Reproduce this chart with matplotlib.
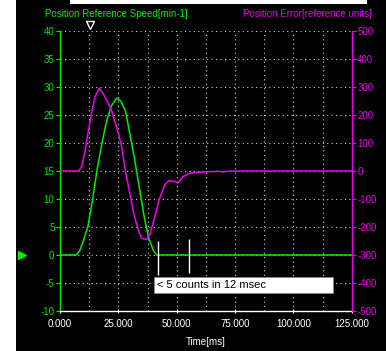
import matplotlib
matplotlib.use("Agg")
import matplotlib.pyplot as plt
from matplotlib.lines import Line2D
from matplotlib.patches import Rectangle
import numpy as np

plt.rcParams['font.family'] = ['Liberation Sans', 'DejaVu Sans']

# ---- data ----
speed_t = [0, 7.0, 8.5, 10, 12, 14, 16, 18, 20, 22, 24.3, 26, 28, 30, 32, 34, 36, 38, 40, 41.5, 125]
speed_v = [0, 0, 0.8, 2.5, 5.2, 10, 15.5, 20, 24, 26.6, 28, 27.5, 25.8, 21.5, 17, 12, 7, 3, 0.8, 0, 0]

err_t = [0, 7.9, 9.3, 10.7, 12.1, 13.5, 15.0, 16.8, 18.5, 19.9, 22.0, 24.2, 26.3, 28.2, 29.9,
         31.6, 33.5, 34.9, 37.0, 38.5, 40.6, 42.7, 44.9, 46.7, 49.1, 50.6, 52.7, 55.6, 59.9,
         68.5, 70.0, 71.5, 77, 125]
err_v = [0, 0, 15, 70, 140, 206, 265, 295, 277, 254, 218, 158, 92, -8, -80,
         -152, -210, -240, -244, -228, -163, -98, -50, -34, -38, -42, -20, -8, -4,
         -1, -4, -1, 0, 0]

x_ticks = [0, 25, 50, 75, 100, 125]
left_ticks = [-10, -5, 0, 5, 10, 15, 20, 25, 30, 35, 40]
right_ticks = [-500, -400, -300, -200, -100, 0, 100, 200, 300, 400, 500]
marker_lines = [42.1, 55.4]
annotation = "< 5 counts in 12 msec"

GREEN = '#00ee00'
MAG = '#ee00ee'
W, H = 386, 351

fig = plt.figure(figsize=(W / 100, H / 100), dpi=100, facecolor='black')
ax = fig.add_axes([60 / W, 1 - 311 / H, 291.7 / W, 280 / H], facecolor='black')
ax2 = ax.twinx()

# grid
gkw = dict(color='#c8c8c8', lw=0.8, linestyle=(0, (1, 3)))
for gx in np.arange(12.5, 125, 12.5):
    ax.axvline(gx, **gkw, zorder=0)
for gy in left_ticks[1:]:
    ax.axhline(gy, **gkw, zorder=0)

ax.plot(speed_t, speed_v, color=GREEN, lw=1.1, zorder=3)
ax2.plot(err_t, err_v, color=MAG, lw=1.1, zorder=3)

ax.set_xlim(0, 125)
ax.set_ylim(-10, 40)
ax2.set_ylim(-500, 500)

ax.set_xticks(x_ticks)
ax.set_xticklabels([f"{v:.3f}" for v in x_ticks])
ax.set_yticks(left_ticks)
ax.set_yticklabels([str(v) for v in left_ticks])
ax2.set_yticks(right_ticks)
ax2.set_yticklabels([str(v) for v in right_ticks])

fs = 7
ax.tick_params(axis='x', colors='white', labelsize=fs, length=3, direction='inout', width=0.8, pad=4)
ax.tick_params(axis='y', colors=GREEN, labelsize=fs, length=3, direction='out', width=0.8, pad=1)
ax2.tick_params(axis='y', colors=MAG, labelsize=fs, length=3, direction='out', width=0.8, pad=1)

for a in (ax, ax2):
    a.spines['top'].set_visible(False)
ax.spines['right'].set_visible(False)
ax2.spines['left'].set_visible(False)
ax2.spines['bottom'].set_visible(False)
ax.spines['left'].set_color(GREEN)
ax.spines['bottom'].set_color('white')
ax2.spines['right'].set_color(MAG)
for s in ('left', 'bottom'):
    ax.spines[s].set_linewidth(1.0)
ax2.spines['right'].set_linewidth(1.0)

ax.set_xlabel("Time[ms]", color='white', fontsize=fs, labelpad=6)

fig.text(45 / W, 1 - 14 / H, "Position Reference Speed[min-1]", color=GREEN, fontsize=fs,
         ha='left', va='center')
fig.text(372 / W, 1 - 14 / H, "Position Error[reference units]", color=MAG, fontsize=fs,
         ha='right', va='center')

# annotation
ax.vlines(marker_lines, [-3.6, -3.2], [2.5, 2.8], color='white', lw=1, zorder=4)
ax.add_patch(Rectangle((40.3, -6.79), 117.1 - 40.3, 2.86, facecolor='white', edgecolor='#888888',
                       lw=0.5, zorder=5, clip_on=False))
ax.text(41.4, -5.36, annotation, color='black', fontsize=8, ha='left', va='center', zorder=6)

# markers
fig.add_artist(Line2D([22 / W], [1 - 255 / H], marker='>', markersize=6, color=GREEN,
                      markeredgecolor=GREEN, linestyle='none'))
fig.add_artist(Line2D([90 / W], [1 - 25 / H], marker='v', markersize=6, markerfacecolor='black',
                      markeredgecolor='white', markeredgewidth=1.0, linestyle='none'))

# white borders
fig.add_artist(Rectangle((0, 0), 16 / W, 1, transform=fig.transFigure, facecolor='white',
                         edgecolor='none'))
fig.add_artist(Rectangle((70 / W, 1 - 4 / H), 297 / W, 4 / H, transform=fig.transFigure,
                         facecolor='white', edgecolor='none'))

fig.savefig("out.png", dpi=100, facecolor='black')
